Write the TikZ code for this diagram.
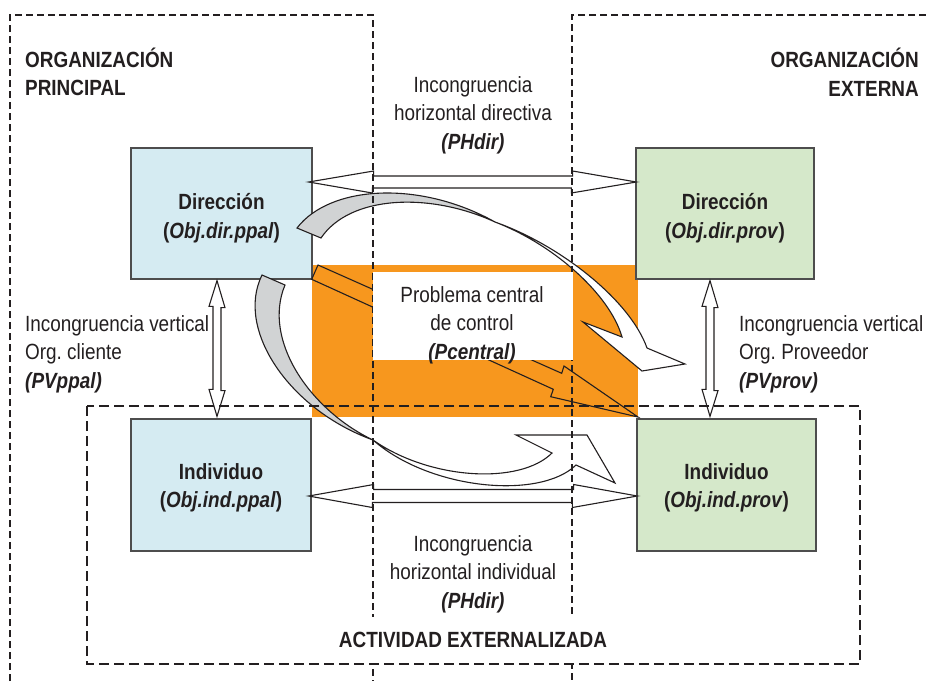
\documentclass[tikz,border=0pt]{standalone}
\usepackage{fontspec}
\setmainfont{Liberation Sans}[FakeStretch=0.86]
\usetikzlibrary{calc}
\frenchspacing
\definecolor{ink}{HTML}{231F20}
\definecolor{bluefill}{HTML}{D5EBF2}
\definecolor{greenfill}{HTML}{D5E8CA}
\definecolor{orangefill}{HTML}{F7971E}
\definecolor{grayband}{HTML}{D1D3D4}
\definecolor{boxline}{HTML}{4D4D4D}
\tikzset{
  lbl/.style={text=ink, inner sep=0pt, font={\fontsize{22}{28.5}\selectfont}},
  orgbox/.style={draw=boxline, line width=1.3pt, inner sep=0pt, minimum height=131pt},
  blueb/.style={orgbox, fill=bluefill},
  greenb/.style={orgbox, fill=greenfill},
  barrow/.style={draw=ink, fill=white, line width=1.1pt, line join=miter},
  grayarrow/.style={draw=ink, fill=grayband, line width=1.1pt},
  whitearrow/.style={draw=ink, fill=white, line width=1.1pt},
  bolt/.style={draw=ink, line width=1.1pt},
  outerdash/.style={draw=ink, line width=2.2pt, dash pattern=on 7pt off 4pt},
  innerdash/.style={draw=ink, line width=2.4pt, dash pattern=on 10pt off 5pt},
}
\begin{document}
\begin{tikzpicture}[x=1pt,y=-1pt]
\useasboundingbox (0,0) rectangle (926,681);
% orange zone
\fill[orangefill] (312,265) rectangle (638,417);
% boxes
\node[blueb, minimum width=181pt] (dirP) at (221.5,213.5) {};
\node[blueb, minimum width=180pt, minimum height=132pt] (indP) at (221,485) {};
\node[greenb, minimum width=178pt] (dirV) at (725,213.5) {};
\node[greenb, minimum width=179pt, minimum height=132pt] (indV) at (726.5,485) {};
% horizontal block arrows
\draw[barrow] ($(dirP.east)+(-4,-31.5)$) -- ++(65,-11) -- ++(0,5) -- ++(199,0) -- ++(0,-5)
  -- ($(dirV.west)+(1,-31.5)$) -- ++(-65,11) -- ++(0,-5) -- ++(-199,0) -- ++(0,5) -- cycle;
\draw[barrow] ($(indP.east)+(-3,11)$) -- ++(65,-11.5) -- ++(0,5) -- ++(200,0) -- ++(0,-5)
  -- ($(indV.west)+(1,11)$) -- ++(-65,11.5) -- ++(0,-5) -- ++(-200,0) -- ++(0,5) -- cycle;
% vertical block arrows
\draw[barrow] ($(dirP.south)+(-4.5,1)$) -- ++(8,27) -- ++(-4,0) -- ++(0,83) -- ++(4,0)
  -- ($(indP.north)+(-4,-2)$) -- ++(-8,-27) -- ++(4,0) -- ++(0,-83) -- ++(-4,0) -- cycle;
\draw[barrow] ($(dirV.south)+(-15,1)$) -- ++(8,27) -- ++(-4,0) -- ++(0,83) -- ++(4,0)
  -- ($(indV.north)+(-16.5,-2)$) -- ++(-8,-27) -- ++(4,0) -- ++(0,-83) -- ++(-4,0) -- cycle;
% curved arrow 1 (direccion -> direccion)
\filldraw[grayarrow] (297,228) .. controls (330,185) and (420,180) .. (495,222)
  .. controls (430,192) and (350,195) .. (321,238) -- cycle;
\filldraw[whitearrow] (495,222) .. controls (555,245) and (610,295) .. (622,337)
  -- (583,322) -- (642,371) -- (685,364) -- (647,348)
  .. controls (630,300) and (560,245) .. (495,222) -- cycle;
% curved arrow 2 (direccion -> individuo)
\filldraw[grayarrow] (262,275) .. controls (235,330) and (290,410) .. (373,440)
  .. controls (310,410) and (262,340) .. (285,285) -- cycle;
\filldraw[whitearrow] (373,440) .. controls (430,480) and (520,485) .. (552,453)
  -- (516,435) -- (587,435) -- (615,483) -- (576,465)
  .. controls (540,500) and (430,490) .. (373,440) -- cycle;
% dashed organisation frames
\draw[outerdash] (10,681) -- (10,15) -- (373,15) -- (373,681);
\draw[outerdash] (926,15) -- (572,15) -- (572,681);
\draw[innerdash] (87,406) rectangle (860,664);
% lightning arrow
\draw[bolt] (318,265) -- (561.7,373.3) -- (564,366) -- (638,417) -- (550.7,396.7)
  -- (553.3,389.3) -- (311.7,279.3) -- cycle;
% central white field
\fill[white] (373,272) rectangle (573,360);
% box texts
\node[lbl, align=center] (dirPt) at ($(dirP.center)+(0,4.5)$) {\textbf{Dirección}\\\textbf{(\textit{Obj.dir.ppal})}};
\node[lbl, align=center] (indPt) at ($(indP.center)+(0,3)$) {\textbf{Individuo}\\\textbf{(\textit{Obj.ind.ppal})}};
\node[lbl, align=center] (dirVt) at ($(dirV.center)+(0,4.5)$) {\textbf{Dirección}\\\textbf{(\textit{Obj.dir.prov})}};
\node[lbl, align=center] (indVt) at ($(indV.center)+(0,3)$) {\textbf{Individuo}\\\textbf{(\textit{Obj.ind.prov})}};
% labels
\node[lbl, anchor=west, align=left] (orgP) at (25,72) {\textbf{ORGANIZACIÓN}\\\textbf{PRINCIPAL}};
\node[lbl, anchor=east, align=right] (orgE) at (919,72) {\textbf{ORGANIZACIÓN}\\\textbf{EXTERNA}};
\node[lbl, align=center] (hdir) at (473,115) {Incongruencia\\horizontal directiva\\\textbf{\textit{(PHdir)}}};
\node[lbl, anchor=west, align=left] (vppal) at (25,354) {Incongruencia vertical\\Org. cliente\\\textbf{\textit{(PVppal)}}};
\node[lbl, anchor=west, align=left] (vprov) at (739,354) {Incongruencia vertical\\Org. Proveedor\\\textbf{\textit{(PVprov)}}};
\node[lbl, align=center] (pcen) at (472,325) {Problema central\\de control\\\textbf{\textit{(Pcentral)}}};
\node[lbl, align=center] (hind) at (473,574) {Incongruencia\\horizontal individual\\\textbf{\textit{(PHdir)}}};
\node[lbl, fill=white, inner xsep=4pt, minimum height=46pt] (act) at (473,640) {\textbf{ACTIVIDAD EXTERNALIZADA}};
\end{tikzpicture}
\end{document}
